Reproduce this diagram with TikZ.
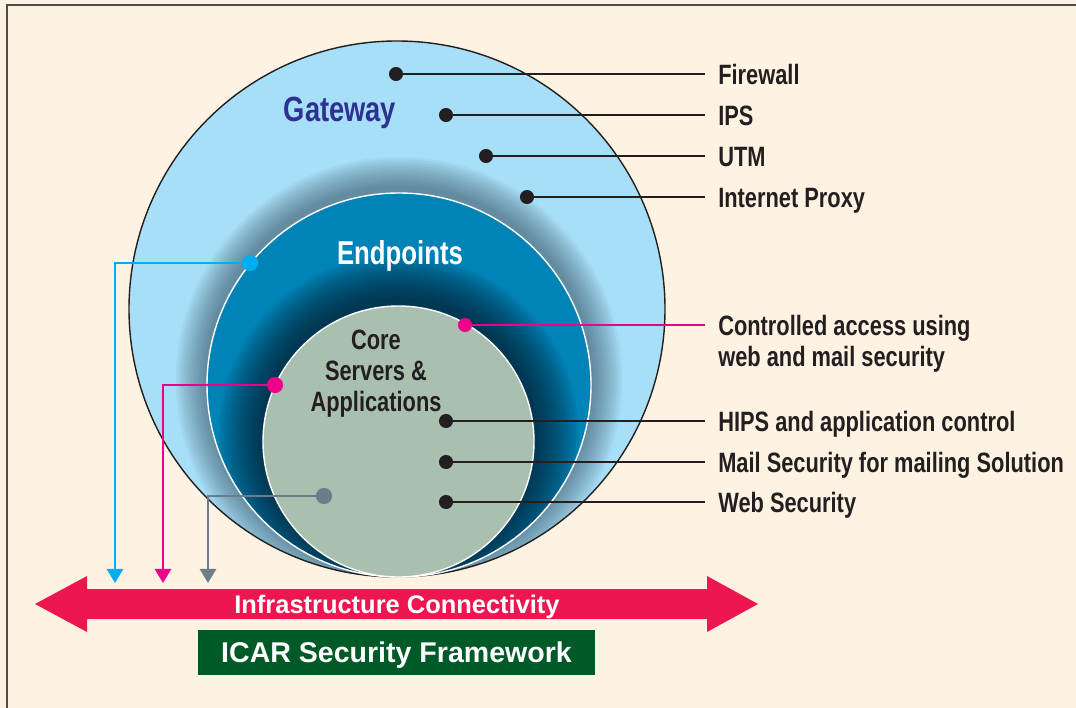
\documentclass[tikz,border=0pt]{standalone}
\usepackage{fontspec}
\setmainfont{Liberation Sans}
\newfontfamily\condfont{Liberation Sans}[FakeStretch=0.78]
\usetikzlibrary{arrows.meta}
\definecolor{cream}{HTML}{FEF3E2}
\definecolor{gwblue}{HTML}{A8DFF8}
\definecolor{epblue}{HTML}{0083B6}
\definecolor{coregreen}{HTML}{A9BFB0}
\definecolor{haloA}{HTML}{1E3646}
\definecolor{haloB}{HTML}{00121F}
\definecolor{gwtext}{HTML}{2E3192}
\definecolor{ink}{HTML}{231F20}
\definecolor{linkcyan}{HTML}{00AEEF}
\definecolor{linkmag}{HTML}{EC008C}
\definecolor{linkgray}{HTML}{6B7D8A}
\definecolor{infrared}{HTML}{EE1651}
\definecolor{icargreen}{HTML}{005A28}
\definecolor{framegray}{HTML}{4D4D4D}

\begin{document}
\begin{tikzpicture}[x=0.025cm,y=-0.025cm,
  dot/.style={circle,fill=ink,inner sep=0pt,minimum size=10pt},
  bigdot/.style={circle,inner sep=0pt,minimum size=11.5pt},
  lab/.style={anchor=base west,inner sep=0pt,text=ink,
    font=\condfont\bfseries\fontsize{19.9}{22}\selectfont},
  leader/.style={draw=ink,line width=0.9pt,shorten >=9.2pt},
  link/.style={line width=1.8pt,-{Triangle[width=11.5pt,length=10pt]}},
  ringtext/.style={anchor=base,inner sep=0pt,font=\condfont\bfseries\fontsize{#1}{21.7}\selectfont}]
\useasboundingbox (0,0) rectangle (1076,708);
\fill[cream] (0,0) rectangle (1076,708);
\draw[framegray,line width=1.4pt] (7,708) -- (7,5) -- (1076,5);
\coordinate (gw) at (397,309);
\coordinate (ep) at (399,385);
\coordinate (cr) at (398.5,441.5);
%gateway
\fill[gwblue] (gw) circle [radius=268];
\begin{scope}
  \clip (gw) circle [radius=268];
  \foreach \k in {1,...,12}
    \fill[haloA,opacity=0.05] (399,380) circle [radius=192+2.6*\k];
\end{scope}
\draw[ink,line width=1pt] (gw) circle [radius=268];
%endpoints
\fill[epblue] (ep) circle [radius=192];
\begin{scope}
  \clip (ep) circle [radius=192];
  \foreach \k in {1,...,16}
    \fill[haloB,opacity=0.06] (398.5,435.5) circle [radius=135.5+2.8*\k];
\end{scope}
\draw[white,line width=1pt] (ep) circle [radius=192];
%core
\filldraw[fill=coregreen,draw=white,line width=1pt] (cr) circle [radius=135.5];
\node[ringtext=24.9,text=gwtext] (gwlab) at (340,122) {Gateway};
\node[ringtext=23.5,text=white] (eplab) at (400,265) {Endpoints};
\node[ringtext=19.9,text=ink,align=center] (crlab) at (376,411) {Core\\Servers \&\\Applications};
%labels
\foreach \nm/\x/\y/\txt in {fw/396/74/Firewall, ips/446/115/IPS, utm/486/156/UTM,
    prx/527/197/Internet Proxy, hips/446/421/HIPS and application control,
    mail/446/462/Mail Security for mailing Solution, web/446/502/Web Security}{
  \node[dot] (\nm) at (\x,\y) {};
  \node[lab] (lab\nm) at (718,\y+10.5) {\txt};
  \draw[leader] (\nm) -- (lab\nm.west |- \nm);
}
\node[dot,fill=linkmag] (ca) at (465,325) {};
\node[lab,align=left] (labca) at (718,366.5) {Controlled access using\\web and mail security};
\draw[leader,draw=linkmag] (ca) -- (labca.west |- ca);
%links down to the connectivity arrow
\node[bigdot,fill=linkcyan] (epd) at (250,263) {};
\node[bigdot,fill=linkmag] (crd) at (275,385) {};
\node[bigdot,fill=linkgray] (apd) at (324,496) {};
\coordinate (epend) at (115,583);
\coordinate (crend) at (163,583);
\coordinate (apend) at (208,583);
\draw[link,linkcyan] (epd) -| (epend);
\draw[link,linkmag] (crd) -| (crend);
\draw[link,linkgray] (apd) -| (apend);
%infrastructure arrow
\fill[infrared] (35,604) -- (87,576) -- (87,589) -- (707,589) -- (707,576) -- (758,604)
  -- (707,632) -- (707,619) -- (87,619) -- (87,632) -- cycle;
\node[anchor=base,inner sep=0pt,text=white,font=\bfseries\fontsize{18.1}{20}\selectfont]
  (infra) at (397,613) {Infrastructure Connectivity};
\node[fill=icargreen,text=white,inner sep=0pt,minimum width=282.4pt,minimum height=32pt,
  text height=14.5pt,text depth=0pt,font=\bfseries\fontsize{20.3}{22}\selectfont]
  (icar) at (396.5,652.5) {ICAR Security Framework};
\end{tikzpicture}
\end{document}
